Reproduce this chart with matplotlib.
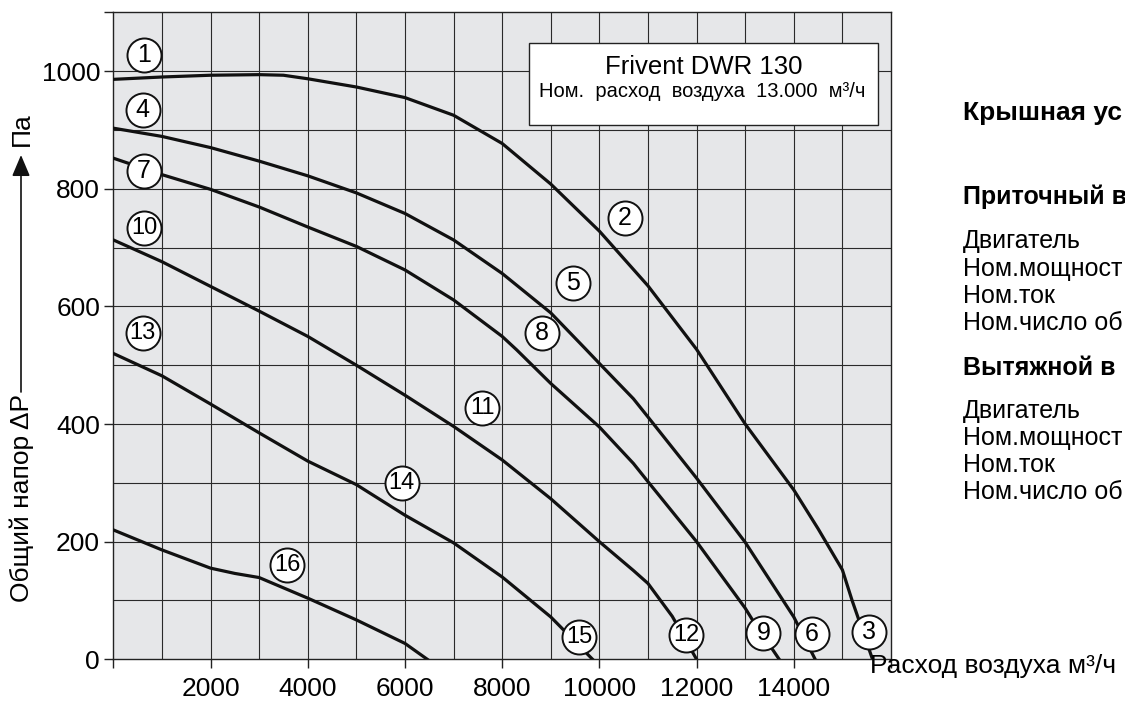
import matplotlib
matplotlib.use("Agg")
import matplotlib.pyplot as plt
from matplotlib.patches import Rectangle

plt.rcParams['font.family'] = ['Liberation Sans', 'DejaVu Sans']

# --- data (air flow m3/h, pressure Pa) ---
c1_x = [0, 1000, 2000, 3000, 3500, 4000, 5000, 6000, 7000, 8000, 9000, 10000, 11000, 12000, 13000, 14000, 14500, 15000, 15200, 15620]
c1_y = [986, 990, 993, 994, 993, 987, 973, 955, 925, 877, 808, 728, 635, 527, 400, 288, 222, 152, 100, 0]

c2_x = [0, 1000, 2000, 3000, 4000, 5000, 6000, 7000, 8000, 9000, 9700, 10000, 10700, 11000, 12000, 13000, 14000, 14440]
c2_y = [903, 889, 870, 847, 822, 793, 758, 713, 656, 589, 529, 503, 443, 412, 308, 199, 72, 0]

c3_x = [0, 1000, 2000, 3000, 4000, 5000, 6000, 7000, 8000, 8300, 9000, 10000, 10700, 11000, 12000, 13000, 13150, 13700]
c3_y = [852, 824, 799, 769, 735, 702, 662, 611, 549, 526, 469, 395, 333, 302, 200, 87, 67, 0]

c4_x = [0, 1000, 2000, 3000, 4000, 5000, 6000, 7000, 8000, 9000, 10000, 10700, 11000, 11500, 12000]
c4_y = [713, 676, 634, 592, 549, 500, 449, 396, 339, 273, 200, 151, 129, 73, 0]

c5_x = [0, 1000, 2000, 3000, 4000, 5000, 6000, 7000, 8000, 9000, 9860]
c5_y = [520, 482, 434, 385, 337, 297, 245, 198, 140, 72, 0]

c6_x = [0, 1000, 2000, 2500, 3000, 4000, 5000, 6000, 6460]
c6_y = [220, 186, 155, 146, 139, 104, 67, 27, 0]

curves = [(c1_x, c1_y), (c2_x, c2_y), (c3_x, c3_y), (c4_x, c4_y), (c5_x, c5_y), (c6_x, c6_y)]

# circled curve numbers and where they sit
mark_labels = ['1', '2', '3', '4', '5', '6', '7', '8', '9', '10', '11', '12', '13', '14', '15', '16']
mark_x = [632, 10528, 15550, 605, 9465, 14370, 632, 8815, 13374, 638, 7593, 11784, 605, 5934, 9588, 3580]
mark_y = [1028, 750, 47, 934, 639, 43, 830, 554, 45, 733, 428, 41, 554, 299, 38, 160]

x_ticks = [0, 2000, 4000, 6000, 8000, 10000, 12000, 14000, 16000]
x_ticklabels = ['', '2000', '4000', '6000', '8000', '10000', '12000', '14000', '']
y_ticks = [0, 200, 400, 600, 800, 1000, 1100]
y_ticklabels = ['0', '200', '400', '600', '800', '1000', '']

# (text, bold, font size, y pixel)
side_lines = [
    ("Крышная ус", True, 19, 113),
    ("Приточный в", True, 18, 197),
    ("Двигатель", False, 18, 241),
    ("Ном.мощност", False, 18, 269),
    ("Ном.ток", False, 18, 296),
    ("Ном.число об", False, 18, 323),
    ("Вытяжной в", True, 18, 368),
    ("Двигатель", False, 18, 411),
    ("Ном.мощност", False, 18, 438),
    ("Ном.ток", False, 18, 465),
    ("Ном.число об", False, 18, 492),
]

W, H = 1125, 702
fig = plt.figure(figsize=(W / 100, H / 100), dpi=100)
ax = fig.add_axes([113.3 / W, 1 - 659.3 / H, (891 - 113.3) / W, (659.3 - 12.3) / H])
ax.set_facecolor('#e6e7e9')
ax.set_xlim(0, 16000)
ax.set_ylim(0, 1100)

# grid every 1000 / 100
for gx in range(1000, 16000, 1000):
    ax.axvline(gx, color='#2a2a2a', lw=0.8, zorder=1)
for gy in range(100, 1100, 100):
    ax.axhline(gy, color='#2a2a2a', lw=0.8, zorder=1)

for cx, cy in curves:
    ax.plot(cx, cy, color='#111111', lw=2.3, solid_joinstyle='round', zorder=3)

ax.scatter(mark_x, mark_y, s=600, facecolor='white', edgecolor='#111111', linewidths=1.4, zorder=4)
for lab, mx, my in zip(mark_labels, mark_x, mark_y):
    fs = 18 if len(lab) == 1 else 17
    ax.text(mx, my, lab, ha='center', va='center', fontsize=fs, zorder=5)

# info box
ax.add_patch(Rectangle((8553, 908), 15735 - 8553, 1047.6 - 908, facecolor='white',
                       edgecolor='#222222', lw=1.0, zorder=6))
ax.text(12140, 1007, "Frivent DWR 130", ha='center', va='center', fontsize=18.5, zorder=7)
ax.text(12124, 966, "Ном.  расход  воздуха  13.000  м³/ч", ha='center', va='center', fontsize=14.5, zorder=7)

ax.set_xticks(x_ticks)
ax.set_xticklabels(x_ticklabels)
ax.set_yticks(y_ticks)
ax.set_yticklabels(y_ticklabels)
ax.tick_params(direction='out', length=6.5, width=1, labelsize=19, color='#222222', pad=3)
ax.tick_params(axis='x', pad=6)
for sp in ax.spines.values():
    sp.set_color('#222222')
    sp.set_linewidth(1)

# y-axis label with arrow
fig.text(22 / W, 1 - 498 / H, "Общий напор ΔP", rotation=90, ha='center', va='center', fontsize=19)
ax.annotate('', xy=(21 / W, 1 - 155 / H), xytext=(21 / W, 1 - 392 / H),
            xycoords='figure fraction', textcoords='figure fraction',
            arrowprops=dict(arrowstyle='-|>,head_length=1.3,head_width=0.55', mutation_scale=10,
                            shrinkA=0, shrinkB=0, color='#111111', lw=1.2))
fig.text(22 / W, 1 - 129 / H, "Па", rotation=90, ha='center', va='center', fontsize=19)

# x-axis label
fig.text(870 / W, 1 - 666 / H, "Расход воздуха м³/ч", ha='left', va='center', fontsize=19)

for txt, bold, fs, py in side_lines:
    fig.text(963 / W, 1 - py / H, txt, ha='left', va='center', fontsize=fs,
             fontweight='bold' if bold else 'normal')

fig.savefig('out.png', dpi=100)
